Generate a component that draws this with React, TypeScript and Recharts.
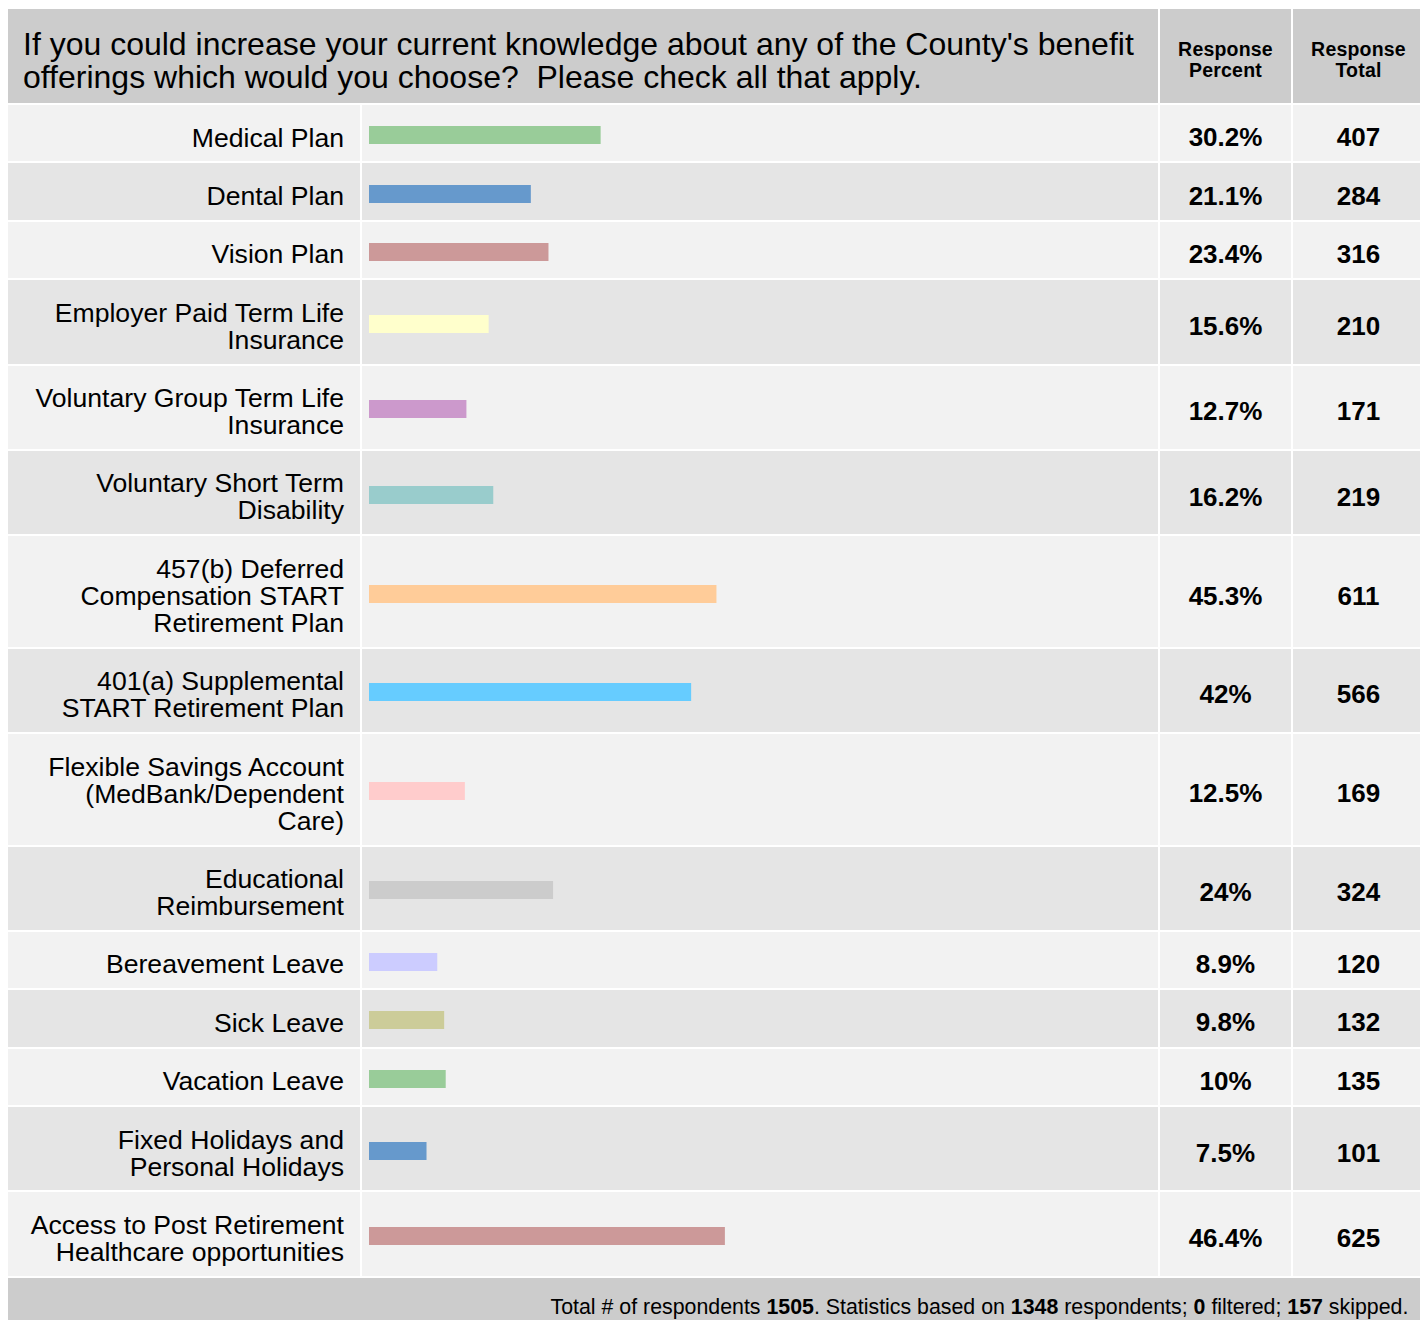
import React from 'react';
import { BarChart, Bar, XAxis, YAxis } from 'recharts';

const title = [
  "If you could increase your current knowledge about any of the County's benefit",
  'offerings which would you choose?  Please check all that apply.',
];

const labels = [
  'Medical Plan',
  'Dental Plan',
  'Vision Plan',
  'Employer Paid Term Life\nInsurance',
  'Voluntary Group Term Life\nInsurance',
  'Voluntary Short Term\nDisability',
  '457(b) Deferred\nCompensation START\nRetirement Plan',
  '401(a) Supplemental\nSTART Retirement Plan',
  'Flexible Savings Account\n(MedBank/Dependent\nCare)',
  'Educational\nReimbursement',
  'Bereavement Leave',
  'Sick Leave',
  'Vacation Leave',
  'Fixed Holidays and\nPersonal Holidays',
  'Access to Post Retirement\nHealthcare opportunities',
];

const percents = [30.2, 21.1, 23.4, 15.6, 12.7, 16.2, 45.3, 42, 12.5, 24, 8.9, 9.8, 10, 7.5, 46.4];
const totals = [407, 284, 316, 210, 171, 219, 611, 566, 169, 324, 120, 132, 135, 101, 625];

const barColors = [
  '#99cc99', '#6699cc', '#cc9999', '#ffffcc', '#cc99cc', '#99cccc', '#ffcc99',
  '#66ccff', '#ffcccc', '#cccccc', '#ccccff', '#cccc99', '#99cc99', '#6699cc', '#cc9999',
];

const footer = { respondents: 1505, based: 1348, filtered: 0, skipped: 157 };

const FONT = '"Liberation Sans", Arial, Helvetica, sans-serif';

const RowBar = ({ name, value, color }: { name: string; value: number; color: string }) => (
  <BarChart
    width={796}
    height={24}
    layout="vertical"
    data={[{ name, value }]}
    margin={{ top: 2, right: 22, bottom: 2, left: 7 }}
  >
    <XAxis type="number" domain={[0, 100]} hide />
    <YAxis type="category" dataKey="name" hide />
    <Bar dataKey="value" fill={color} barSize={20} isAnimationActive={false} />
  </BarChart>
);

export default function App() {
  const cell = (bg: string): React.CSSProperties => ({ background: bg });
  return (
    <div
      style={{
        width: 1416,
        marginTop: 1,
        display: 'grid',
        gridTemplateColumns: '352px 796px 131px 131px',
        columnGap: 2,
        rowGap: 2,
        background: '#ffffff',
        fontFamily: FONT,
        color: '#000',
      }}
    >
      <div
        style={{
          gridColumn: '1 / span 2',
          height: 94,
          boxSizing: 'border-box',
          padding: '19px 0 0 15px',
          background: '#cccccc',
          fontSize: 32,
          lineHeight: '32.5px',
          whiteSpace: 'pre',
        }}
      >
        {title.join('\n')}
      </div>
      {['Response\nPercent', 'Response\nTotal'].map((h) => (
        <div
          key={h}
          style={{
            background: '#cccccc',
            height: 94,
            boxSizing: 'border-box',
            paddingTop: 30,
            textAlign: 'center',
            fontWeight: 'bold',
            fontSize: 19.5,
            lineHeight: '21px',
            letterSpacing: 0.2,
            whiteSpace: 'pre',
          }}
        >
          {h}
        </div>
      ))}
      {labels.map((label, i) => {
        const bg = i % 2 === 0 ? '#f2f2f2' : '#e5e5e5';
        const numStyle: React.CSSProperties = {
          ...cell(bg),
          display: 'flex',
          alignItems: 'center',
          justifyContent: 'center',
          paddingTop: 9,
          boxSizing: 'border-box',
          fontSize: 26,
          fontWeight: 'bold',
        };
        return (
          <React.Fragment key={label}>
            <div
              style={{
                ...cell(bg),
                padding: '19.5px 16px 9.9px 6px',
                textAlign: 'right',
                fontSize: 26.6,
                lineHeight: '27px',
                whiteSpace: 'pre-line',
              }}
            >
              {label}
            </div>
            <div style={{ ...cell(bg), display: 'flex', alignItems: 'center', paddingTop: 4, boxSizing: 'border-box' }}>
              <RowBar name={label} value={percents[i]} color={barColors[i]} />
            </div>
            <div style={numStyle}>{percents[i]}%</div>
            <div style={numStyle}>{totals[i]}</div>
          </React.Fragment>
        );
      })}
      <div
        style={{
          gridColumn: '1 / span 4',
          height: 50,
          boxSizing: 'border-box',
          background: '#cccccc',
          paddingTop: 18,
          paddingRight: 16,
          textAlign: 'right',
          fontSize: 22,
          lineHeight: '22px',
        }}
      >
        <span style={{ display: 'inline-block', transform: 'scaleX(0.97)', transformOrigin: 'right center' }}>
          Total # of respondents <b>{footer.respondents}</b>. Statistics based on <b>{footer.based}</b> respondents;{' '}
          <b>{footer.filtered}</b> filtered; <b>{footer.skipped}</b> skipped.
        </span>
      </div>
    </div>
  );
}
